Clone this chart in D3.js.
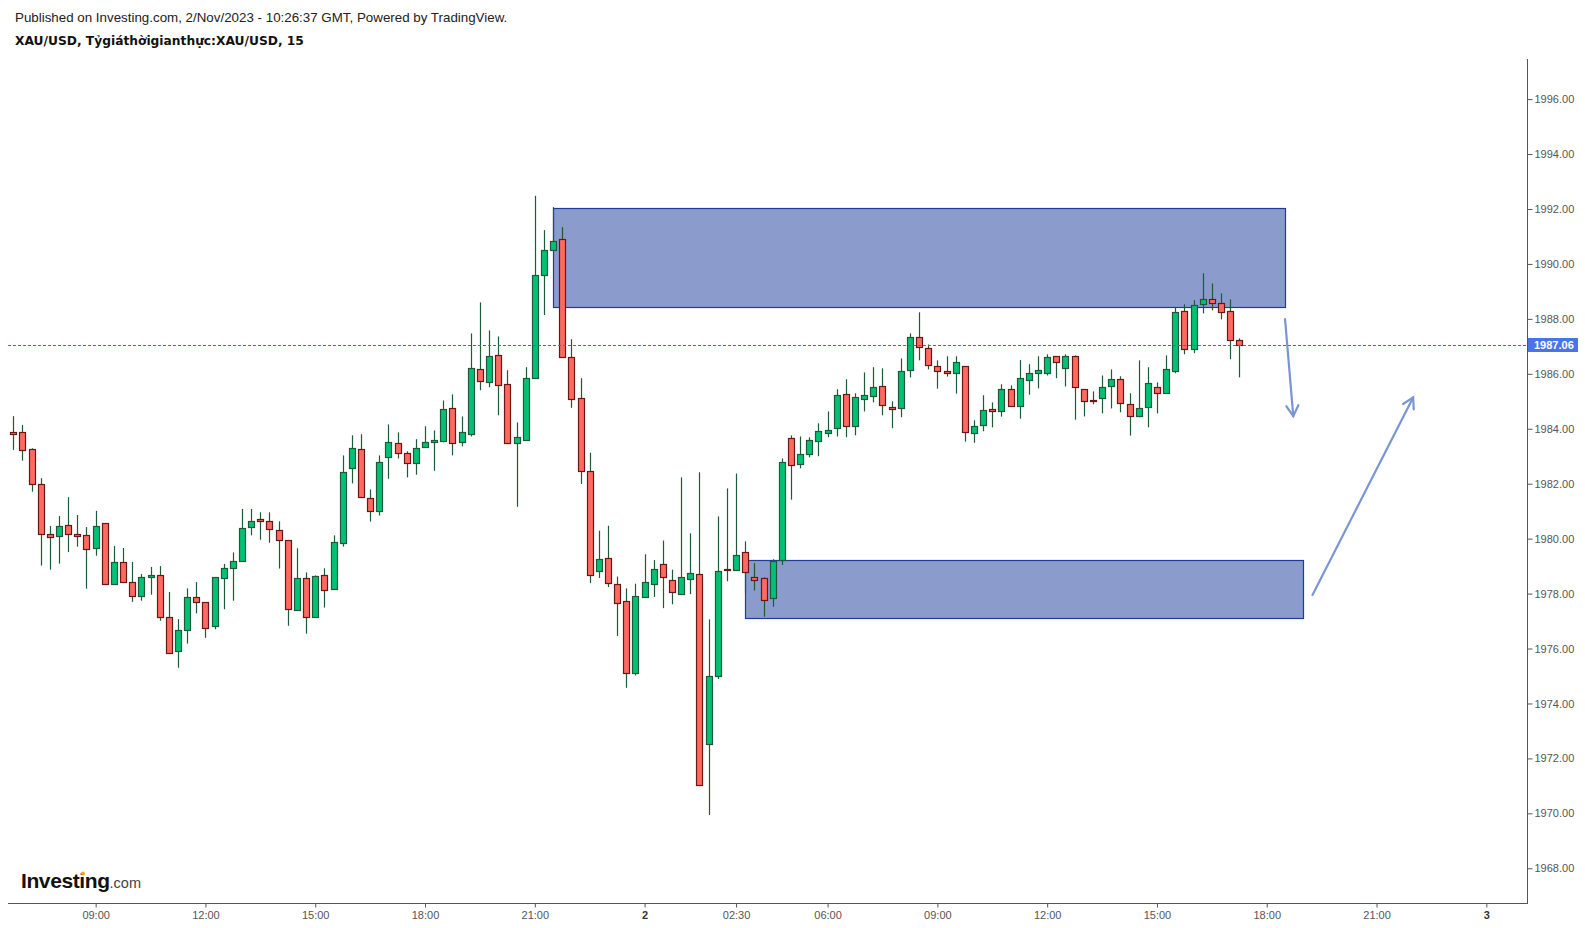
<!DOCTYPE html>
<html>
<head>
<meta charset="utf-8">
<script src="https://cdn.jsdelivr.net/npm/d3@7"></script>
<style>
  html, body { margin: 0; padding: 0; background: #ffffff; }
  svg { display: block; }
</style>
</head>
<body>
<svg id="chart" width="1585" height="928"></svg>
<script>
// ---------------- DATA ----------------
const openV = [
1983.87,1983.87,1983.25,1981.98,1980.16,1980.08,1980.48,1980.16,1980.12,1979.65,
1980.56,1978.34,1979.14,1978.41,1977.90,1978.59,1978.66,1977.14,1975.90,1976.66,
1977.86,1977.68,1976.81,1978.55,1978.92,1979.17,1980.41,1980.73,1980.63,1980.30,
1979.94,1977.39,1978.55,1977.13,1978.66,1978.15,1979.83,1982.56,1983.25,1981.47,
1980.99,1982.96,1983.47,1983.11,1982.74,1983.32,1983.51,1983.54,1984.74,1983.51,
1983.80,1986.16,1985.69,1986.67,1985.62,1983.47,1983.58,1985.86,1989.58,1990.49,
1990.90,1986.62,1985.12,1982.47,1978.83,1979.30,1978.35,1977.73,1975.11,1977.88,
1978.36,1979.08,1978.49,1977.99,1978.54,1978.71,1972.53,1974.99,1978.90,1978.86,
1979.52,1978.59,1978.55,1977.83,1979.21,1983.65,1982.71,1983.07,1983.54,1983.83,
1984.02,1985.25,1984.09,1985.07,1985.18,1985.54,1984.78,1984.74,1986.13,1987.33,
1986.93,1986.27,1986.09,1986.02,1986.27,1983.83,1984.13,1984.71,1984.63,1985.43,
1984.82,1985.76,1986.02,1986.02,1986.64,1986.20,1986.64,1985.43,1985.05,1985.11,
1985.54,1985.80,1984.89,1984.45,1984.78,1985.51,1985.29,1986.09,1988.27,1986.89,
1988.53,1988.71,1988.57,1988.27,1987.22];
const highV = [
1984.46,1984.14,1983.29,1982.20,1980.46,1980.82,1981.51,1980.86,1980.42,1981.01,
1980.56,1979.73,1979.66,1979.15,1978.71,1978.97,1979.00,1978.06,1977.07,1978.19,
1978.42,1977.68,1978.59,1979.08,1979.50,1981.08,1981.08,1980.96,1980.96,1980.63,
1979.94,1979.65,1978.77,1978.66,1978.92,1980.12,1983.03,1983.76,1983.80,1981.79,
1983.03,1984.16,1983.87,1983.18,1983.62,1984.09,1983.94,1985.03,1985.25,1984.45,
1987.47,1988.60,1987.58,1987.36,1986.13,1984.23,1986.24,1992.48,1991.23,1992.07,
1991.34,1987.26,1985.84,1983.13,1980.29,1980.47,1978.62,1978.19,1978.36,1979.43,
1979.22,1979.93,1978.87,1982.23,1980.19,1982.42,1977.06,1980.81,1981.83,1982.37,
1979.90,1979.11,1978.59,1979.25,1982.92,1983.76,1983.72,1983.69,1984.20,1984.63,
1985.44,1985.80,1985.29,1986.05,1986.24,1986.20,1985.00,1986.56,1987.47,1988.24,
1987.07,1986.49,1986.64,1986.64,1986.27,1984.31,1985.22,1984.96,1985.62,1985.58,
1986.50,1986.35,1986.64,1986.71,1986.64,1986.71,1986.67,1985.43,1985.36,1985.94,
1986.16,1985.91,1985.29,1986.49,1986.24,1985.69,1986.67,1988.41,1988.53,1988.68,
1989.66,1989.29,1988.93,1988.71,1987.29];
const lowV = [
1983.23,1982.84,1981.71,1979.02,1978.87,1979.09,1979.51,1979.71,1978.18,1979.38,
1978.34,1978.34,1978.41,1977.70,1977.74,1977.96,1977.01,1975.82,1975.30,1976.18,
1977.28,1976.39,1976.70,1977.43,1977.74,1979.17,1980.12,1979.96,1979.85,1978.91,
1976.83,1977.39,1976.54,1977.13,1977.49,1978.15,1979.71,1982.01,1981.50,1980.62,
1980.84,1982.18,1982.92,1982.23,1982.33,1983.32,1982.47,1983.51,1983.03,1983.36,
1983.72,1985.40,1985.51,1984.49,1983.47,1981.16,1983.58,1985.86,1988.14,1990.49,
1986.62,1984.76,1981.99,1978.38,1978.57,1978.24,1976.46,1974.57,1975.02,1977.88,
1977.88,1977.47,1977.61,1977.95,1977.98,1971.04,1969.94,1974.89,1978.45,1978.86,
1978.00,1978.11,1977.16,1977.52,1979.04,1981.42,1982.56,1982.96,1983.00,1983.69,
1983.72,1983.69,1983.76,1984.63,1984.96,1984.49,1984.02,1984.42,1985.87,1986.49,
1986.16,1985.46,1985.90,1985.28,1983.53,1983.49,1983.91,1984.05,1984.44,1984.82,
1984.37,1985.24,1985.47,1985.94,1985.84,1985.54,1984.33,1984.45,1984.89,1984.56,
1984.74,1984.60,1983.75,1984.42,1984.05,1984.56,1985.29,1986.02,1986.71,1986.75,
1988.20,1988.31,1987.98,1986.53,1985.87];
const closeV = [
1983.80,1983.21,1981.98,1980.16,1980.05,1980.45,1980.16,1980.08,1979.61,1980.45,
1978.34,1979.14,1978.41,1977.90,1978.59,1978.66,1977.14,1975.82,1976.66,1977.86,
1977.68,1976.73,1978.59,1978.92,1979.17,1980.37,1980.66,1980.63,1980.34,1979.94,
1977.43,1978.55,1977.13,1978.63,1978.12,1979.87,1982.41,1983.29,1981.50,1980.99,
1982.78,1983.51,1983.11,1982.74,1983.29,1983.51,1983.58,1984.71,1983.47,1983.87,
1986.20,1985.73,1986.64,1985.58,1983.47,1983.69,1985.84,1989.58,1990.49,1990.85,
1986.62,1985.10,1982.47,1978.68,1979.27,1978.39,1977.67,1975.11,1977.92,1978.42,
1978.90,1978.62,1978.07,1978.61,1978.76,1971.04,1974.99,1978.83,1978.87,1979.42,
1978.80,1978.48,1977.75,1979.17,1982.78,1982.67,1983.07,1983.58,1983.91,1983.94,
1985.22,1984.09,1985.14,1985.22,1985.51,1984.85,1984.71,1986.09,1987.33,1986.96,
1986.31,1986.09,1986.02,1986.42,1983.87,1984.09,1984.67,1984.63,1985.43,1984.82,
1985.84,1986.02,1986.13,1986.60,1986.42,1986.64,1985.51,1985.00,1985.02,1985.51,
1985.80,1984.93,1984.45,1984.74,1985.65,1985.29,1986.16,1988.24,1986.89,1988.49,
1988.71,1988.57,1988.24,1987.22,1987.06];

const xTickIdx    = [9, 21, 33, 45, 57, 69, 79, 89, 101, 113, 125, 137, 149, 161];
const xTickLabels = ["09:00","12:00","15:00","18:00","21:00","2","02:30","06:00","09:00","12:00","15:00","18:00","21:00","3"];
const xTickBold   = ["2","3"];
const yTicks = [1968,1970,1972,1974,1976,1978,1980,1982,1984,1986,1988,1990,1992,1994,1996];
const lastPrice = 1987.06;

// drawn zones (bar index / price)
const zoneStartIdx = [59, 80];
const zoneEndIdx   = [139, 141];
const zoneHigh     = [1992.03, 1979.21];
const zoneLow      = [1988.42, 1977.11];

// drawn arrows (bar index / price)
const arrowFromIdx   = [139.0, 142.0];
const arrowFromPrice = [1987.99, 1977.95];
const arrowToIdx     = [139.9, 153.0];
const arrowToPrice   = [1984.46, 1985.14];

const headerLine1 = "Published on Investing.com, 2/Nov/2023 - 10:26:37 GMT, Powered by TradingView.";
const headerLine2 = "XAU/USD, Tỷgiáthờigianthực:XAU/USD, 15";

// ---------------- LAYOUT ----------------
const W = 1585, H = 928;
const plotL = 8, plotR = 1527, plotT = 59, plotB = 903;

const svg = d3.select("#chart");
svg.append("rect").attr("width", W).attr("height", H).attr("fill", "#ffffff");

const x = d3.scaleLinear().domain([0, 134]).range([13.3, 1239.3]);
const y = d3.scaleLinear().domain([1968, 1996]).range([868.3, 99.1]);

// header
svg.append("text").attr("x", 15).attr("y", 22)
  .attr("font-family", "'Liberation Sans', Arial, sans-serif").attr("font-size", 13.35)
  .attr("fill", "#222").text(headerLine1);
svg.append("text").attr("x", 15).attr("y", 45)
  .attr("font-family", "'DejaVu Sans', Verdana, sans-serif").attr("font-size", 12.25)
  .attr("font-weight", "bold").attr("fill", "#111").text(headerLine2);

// clip
svg.append("defs").append("clipPath").attr("id", "plotclip")
  .append("rect").attr("x", plotL).attr("y", plotT).attr("width", plotR - plotL).attr("height", plotB - plotT);
const plot = svg.append("g").attr("clip-path", "url(#plotclip)");

// zones
const zones = zoneStartIdx.map((s, i) => ({s, e: zoneEndIdx[i], hi: zoneHigh[i], lo: zoneLow[i]}));
plot.selectAll("rect.zone").data(zones).join("rect").attr("class", "zone")
  .attr("x", d => Math.round(x(d.s)) + 0.5)
  .attr("y", d => Math.round(y(d.hi)) + 0.5)
  .attr("width", d => Math.round(x(d.e)) - Math.round(x(d.s)))
  .attr("height", d => Math.round(y(d.lo)) - Math.round(y(d.hi)))
  .attr("fill", "#8b9bcc").attr("stroke", "#1f3c9c").attr("stroke-width", 1.2);

// candles
const candles = openV.map((o, i) => ({i, o, h: highV[i], l: lowV[i], c: closeV[i]}));
const cg = plot.append("g");
const GREEN = "#00c176", GREEN_B = "#1d5b38", RED = "#ff6a60", RED_B = "#6a1616", WICK = "#1d5b38";
cg.selectAll("line.wick").data(candles).join("line").attr("class", "wick")
  .attr("x1", d => Math.round(x(d.i)) + 0.5).attr("x2", d => Math.round(x(d.i)) + 0.5)
  .attr("y1", d => y(d.h)).attr("y2", d => y(d.l))
  .attr("stroke", WICK).attr("stroke-width", 1.2);
cg.selectAll("rect.body").data(candles).join("rect").attr("class", "body")
  .attr("x", d => Math.round(x(d.i)) - 2.5)
  .attr("y", d => Math.round(y(Math.max(d.o, d.c))) + 0.5)
  .attr("width", 6)
  .attr("height", d => Math.max(1, Math.round(y(Math.min(d.o, d.c))) - Math.round(y(Math.max(d.o, d.c)))))
  .attr("fill", d => d.c >= d.o ? GREEN : RED)
  .attr("stroke", d => d.c >= d.o ? GREEN_B : RED_B)
  .attr("stroke-width", 1.2);

// last price line
plot.append("line")
  .attr("x1", plotL).attr("x2", plotR)
  .attr("y1", Math.round(y(lastPrice)) + 0.5).attr("y2", Math.round(y(lastPrice)) + 0.5)
  .attr("stroke", "#3c64ee").attr("stroke-width", 1).attr("stroke-dasharray", "3,2");

// arrows
const ARROW = "#7490d2";
arrowFromIdx.forEach((fi, k) => {
  const x1 = x(fi), y1 = y(arrowFromPrice[k]), x2 = x(arrowToIdx[k]), y2 = y(arrowToPrice[k]);
  const ag = plot.append("g").attr("stroke", ARROW).attr("stroke-width", 2.2).attr("fill", "none")
    .attr("stroke-linecap", "round").attr("opacity", 0.95);
  ag.append("line").attr("x1", x1).attr("y1", y1).attr("x2", x2).attr("y2", y2);
  const ang = Math.atan2(y2 - y1, x2 - x1);
  const L = 12, a = Math.PI / 6;
  const p1 = [x2 - L * Math.cos(ang - a), y2 - L * Math.sin(ang - a)];
  const p2 = [x2 - L * Math.cos(ang + a), y2 - L * Math.sin(ang + a)];
  ag.append("path").attr("d", `M${p1[0]},${p1[1]}L${x2},${y2}L${p2[0]},${p2[1]}`);
});

// right axis
const AX = "#555555";
const yAxis = d3.axisRight(y).tickValues(yTicks).tickFormat(d3.format(".2f")).tickSize(5).tickPadding(2);
const yg = svg.append("g").attr("transform", `translate(${plotR + 0.5},0)`).call(yAxis);
yg.select(".domain").remove();
yg.selectAll(".tick line").attr("stroke", AX);
yg.selectAll(".tick text").attr("fill", "#555").attr("font-size", 11)
  .attr("font-family", "'Liberation Sans', Arial, sans-serif");
svg.append("line").attr("x1", plotR + 0.5).attr("x2", plotR + 0.5).attr("y1", plotT).attr("y2", plotB + 0.5)
  .attr("stroke", AX).attr("stroke-width", 1);

// bottom axis
const xAxis = d3.axisBottom(x).tickValues(xTickIdx)
  .tickFormat((d, i) => xTickLabels[i]).tickSize(4).tickPadding(4);
const xg = svg.append("g").attr("transform", `translate(0,${plotB + 0.5})`).call(xAxis);
xg.select(".domain").remove();
xg.selectAll(".tick line").attr("stroke", AX);
xg.selectAll(".tick text").attr("font-size", 11)
  .attr("font-family", "'Liberation Sans', Arial, sans-serif")
  .attr("font-weight", (d, i) => xTickBold.includes(xTickLabels[i]) ? "bold" : "normal")
  .attr("fill", (d, i) => xTickBold.includes(xTickLabels[i]) ? "#333" : "#555");
svg.append("line").attr("x1", plotL).attr("x2", plotR + 1).attr("y1", plotB + 0.5).attr("y2", plotB + 0.5)
  .attr("stroke", AX).attr("stroke-width", 1);

// last price label
const ly = y(lastPrice);
svg.append("rect").attr("x", plotR + 1).attr("y", Math.round(ly) - 7).attr("width", 50).attr("height", 14)
  .attr("fill", "#4b73e8");
svg.append("text").attr("x", plotR + 7).attr("y", ly).attr("dy", "0.35em")
  .attr("font-family", "'Liberation Sans', Arial, sans-serif").attr("font-size", 11).attr("font-weight", "bold")
  .attr("fill", "#ffffff").text(d3.format(".2f")(lastPrice));

// logo
const logo = svg.append("text").attr("x", 21).attr("y", 888)
  .attr("font-family", "'Liberation Sans', Arial, sans-serif");
logo.append("tspan").attr("font-size", 21).attr("font-weight", "bold").attr("fill", "#111")
  .attr("letter-spacing", -0.4).text("Investing");
logo.append("tspan").attr("font-size", 14.5).attr("fill", "#444").text(".com");
svg.append("circle").attr("cx", 83).attr("cy", 873.5).attr("r", 1.9).attr("fill", "#f5a623");
</script>
</body>
</html>
